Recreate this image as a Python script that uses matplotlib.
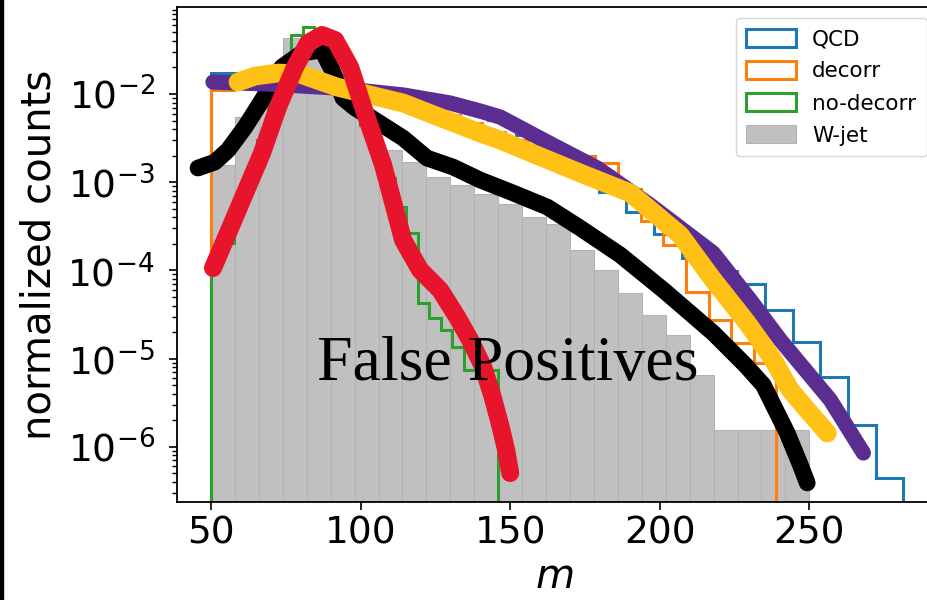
import numpy as np
import matplotlib.pyplot as plt
from matplotlib.patches import Rectangle

# histograms: 25 bins each over their own mass range, heights as log10(normalized counts)
n_bins = 25
qcd_range = (50.0, 281.4)
decorr_range = (50.0, 239.0)
nodecorr_range = (50.0, 146.0)
wjet_range = (50.0, 250.0)

qcd_log10 = [-1.76, -1.875, -1.90, -1.92, -1.94, -1.98, -2.01, -2.06, -2.11, -2.19,
             -2.295, -2.465, -2.66, -2.86, -3.11, -3.34, -3.59, -3.86, -4.01, -4.155,
             -4.45, -4.81, -5.21, -5.75, -6.35]
decorr_log10 = [-1.955, -1.84, -1.785, -1.785, -1.82, -1.865, -1.93, -2.0, -2.07, -2.16,
                -2.24, -2.33, -2.43, -2.52, -2.58, -2.64, -2.70, -2.78, -3.08, -3.44,
                -3.71, -4.245, -4.56, -4.82, -5.05]
nodecorr_log10 = [-3.905, -3.69, -3.28, -2.92, -2.52, -2.125, -1.705, -1.33, -1.24, -1.39,
                  -1.56, -1.785, -2.07, -2.35, -2.635, -2.95, -3.28, -3.575, -4.37, -4.54,
                  -4.68, -4.87, -5.13, -5.13, -5.13]
wjet_log10 = [-2.80, -2.26, -1.785, -1.365, -1.525, -1.875, -2.215, -2.635, -2.77, -2.94,
              -3.03, -3.13, -3.25, -3.395, -3.475, -3.77, -4.0, -4.255, -4.505, -4.73,
              -5.185, -5.81, -5.81, -5.81, -5.81]

# hand drawn overlay curves (m, log10 counts)
black_m = [45.65, 51.3, 55.7, 61.4, 67.1, 73.7, 80.4, 87.1, 90.5, 94.1, 98.2, 103.2, 114.2,
           122.2, 130.9, 140.0, 151.0, 162.4, 173.4, 186.8, 201.2, 217.9, 228.6, 234.6,
           242.6, 247.0, 249.3]
black_log10 = [-2.839, -2.771, -2.635, -2.374, -2.068, -1.694, -1.535, -1.501, -1.728, -2.045,
               -2.159, -2.261, -2.499, -2.726, -2.828, -2.975, -3.122, -3.281, -3.519, -3.825,
               -4.222, -4.710, -5.073, -5.299, -5.844, -6.206, -6.410]
red_m = [50.67, 55.69, 61.37, 67.06, 72.41, 78.09, 82.44, 87.12, 91.47, 96.49, 100.84, 107.53,
         114.21, 119.90, 126.59, 132.27, 136.62, 140.97, 143.98, 146.66, 148.66, 150.0]
red_log10 = [-3.973, -3.576, -3.122, -2.669, -2.147, -1.694, -1.422, -1.331, -1.388, -1.694,
             -2.147, -2.805, -3.655, -3.995, -4.222, -4.528, -4.789, -5.095, -5.413, -5.753,
             -6.036, -6.297]
purple_m = [50.67, 59.70, 69.73, 92.14, 114.21, 129.93, 139.97, 146.66, 162.37, 179.10,
            196.82, 217.89, 230.27, 240.30, 257.02, 268.06]
purple_log10 = [-1.864, -1.875, -1.887, -1.932, -2.011, -2.102, -2.193, -2.261, -2.544, -2.839,
                -3.259, -3.803, -4.336, -4.789, -5.469, -6.070]
gold_m = [59.03, 64.72, 72.41, 79.77, 92.14, 114.21, 139.97, 146.66, 173.41, 190.13, 206.86,
          217.89, 229.26, 237.96, 243.65, 249.33, 256.02]
gold_log10 = [-1.864, -1.796, -1.762, -1.773, -1.921, -2.102, -2.442, -2.522, -2.896, -3.122,
              -3.599, -4.109, -4.596, -5.016, -5.356, -5.583, -5.844]

fig = plt.figure(figsize=(9.28, 6.0), dpi=100)
ax = fig.add_axes([0.1907, 0.1633, 0.812, 0.8255])
ax.set_yscale('log')


def draw_hist(rng, vals, **kw):
    edges = np.linspace(rng[0], rng[1], n_bins + 1)
    centers = 0.5 * (edges[:-1] + edges[1:])
    n, b, patches = ax.hist(centers, bins=edges, weights=10.0 ** np.array(vals), **kw)
    return patches[0]


h_w = draw_hist(wjet_range, wjet_log10, histtype='bar', color='#c0c0c0',
                edgecolor='#b3b3b3', linewidth=0.8, zorder=1)
h_q = draw_hist(qcd_range, qcd_log10, histtype='step', color='#1f77b4', linewidth=2.2, zorder=2)
h_d = draw_hist(decorr_range, decorr_log10, histtype='step', color='#ff7f0e', linewidth=2.2, zorder=2)
h_n = draw_hist(nodecorr_range, nodecorr_log10, histtype='step', color='#2ca02c', linewidth=2.2, zorder=2)

curve_kw = dict(solid_capstyle='round', solid_joinstyle='round')
ax.plot(black_m, 10.0 ** np.array(black_log10), color='black', lw=12, zorder=3, **curve_kw)
ax.plot(purple_m, 10.0 ** np.array(purple_log10), color='#5c2d91', lw=11, zorder=4, **curve_kw)
ax.plot(gold_m, 10.0 ** np.array(gold_log10), color='#ffc116', lw=13.5, zorder=5, **curve_kw)
ax.plot(red_m, 10.0 ** np.array(red_log10), color='#e8142c', lw=13, zorder=6, **curve_kw)

ax.text(149.3, 10 ** -5.24, 'False Positives', family='Liberation Serif', fontsize=46,
        ha='center', va='baseline', zorder=10)

ax.set_xlim(38.63, 290.5)
ax.set_ylim(10 ** -6.626, 10 ** -1.010)
ax.set_xticks([50, 100, 150, 200, 250])
ax.tick_params(axis='both', which='major', labelsize=27, length=6, width=1.2)
ax.tick_params(axis='y', which='major', pad=10)
ax.tick_params(axis='y', which='minor', length=3.5, width=1.0)
for s in ax.spines.values():
    s.set_linewidth(1.3)

ax.set_xlabel(r'$m$', fontsize=29, labelpad=4)
ax.set_ylabel('normalized counts', fontsize=29, labelpad=6)

ax.legend([h_q, h_d, h_n, h_w], ['QCD', 'decorr', 'no-decorr', 'W-jet'],
          loc='upper right', bbox_to_anchor=(927 / 928, 582 / 600), bbox_transform=fig.transFigure,
          borderaxespad=0, fontsize=15.5, handlelength=2.3, handleheight=0.9, labelspacing=0.55,
          borderpad=0.5, handletextpad=0.75)

fig.add_artist(Rectangle((0, 0), 2.5 / 928, 1, transform=fig.transFigure, color='black'))

fig.savefig('out.png', dpi=100)
